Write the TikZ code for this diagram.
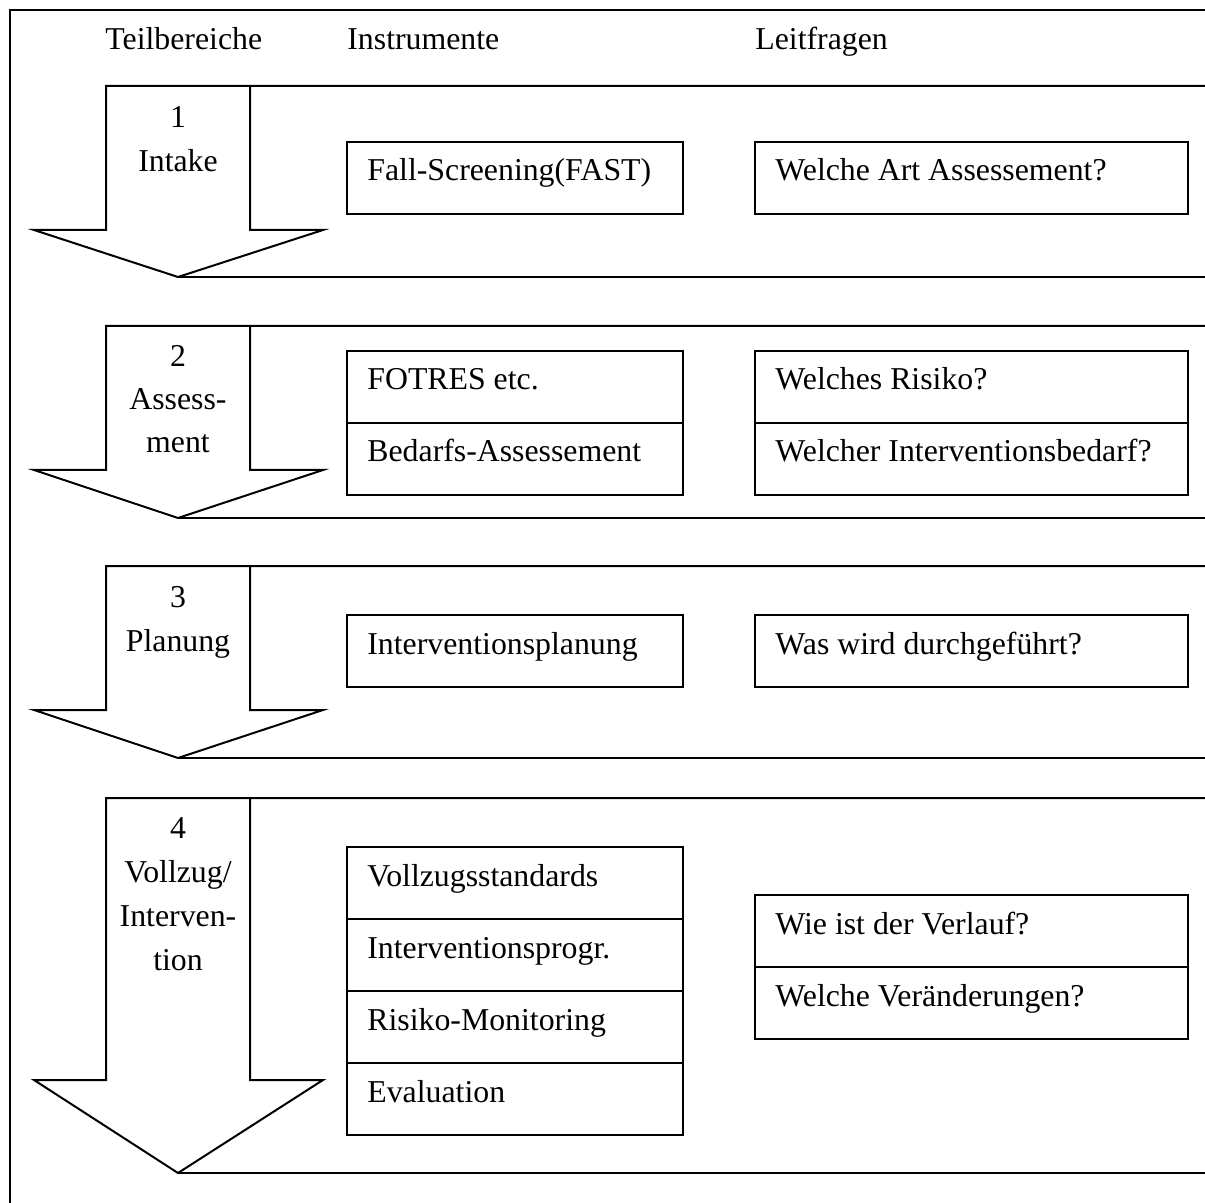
\documentclass[tikz,border=0pt]{standalone}
\usepackage{fontspec}
\setmainfont{Liberation Serif}
\begin{document}
\begin{tikzpicture}[x=0.5pt,y=-0.5pt,
  every node/.style={font=\fontsize{15.9}{18}\selectfont},
  ln/.style={line width=1pt, line join=miter},
  icell/.style={draw, line width=1pt, rectangle, minimum width=168pt, minimum height=36pt, anchor=north west, inner sep=0pt},
  qcell/.style={draw, line width=1pt, rectangle, minimum width=216.5pt, minimum height=36pt, anchor=north west, inner sep=0pt},
  txt/.style={anchor=base west, inner sep=0pt},
  lbl/.style={anchor=base, inner sep=0pt}]
\useasboundingbox (0,0) rectangle (1205,1203);
% outer frame (cut off at right and bottom)
\draw[ln] (10,1203) -- (10,10) -- (1205,10);
% headers
\node[txt] (h1) at (105,50) {Teilbereiche};
\node[txt] (h2) at (347,50) {Instrumente};
\node[txt] (h3) at (755,50) {Leitfragen};
% arrows: top, shaft bottom, tip
\foreach \t/\s/\p in {86/230/277, 326/470/518, 566/710/758, 798/1080/1173}{
  \draw[ln] (1205,\t) -- (106,\t) -- (106,\s) -- (34,\s) -- (178,\p) -- (323,\s) -- (250,\s) -- (250,\t);
  \draw[ln] (178,\p) -- (1205,\p);
}
% row 1
\node[lbl] (n1) at (178,128) {1};
\node[lbl] (l1) at (178,172) {Intake};
\node[icell] (i11) at (346,141) {};
\node[txt] at ([xshift=10.5pt,yshift=-20pt]i11.north west) (ti11) {Fall-Screening(FAST)};
\node[qcell] (q11) at (754,141) {};
\node[txt] at ([xshift=10.5pt,yshift=-20pt]q11.north west) (tq11) {Welche Art Assessement?};
% row 2
\node[lbl] (n2) at (178,367) {2};
\node[lbl] (l2a) at (178,410) {Assess-};
\node[lbl] (l2b) at (178,453) {ment};
\node[icell] (i21) at (346,350) {};
\node[icell] (i22) at (346,422) {};
\node[txt] at ([xshift=10.5pt,yshift=-20pt]i21.north west) (ti21) {FOTRES etc.};
\node[txt] at ([xshift=10.5pt,yshift=-20pt]i22.north west) (ti22) {Bedarfs-Assessement};
\node[qcell] (q21) at (754,350) {};
\node[qcell] (q22) at (754,422) {};
\node[txt] at ([xshift=10.5pt,yshift=-20pt]q21.north west) (tq21) {Welches Risiko?};
\node[txt] at ([xshift=10.5pt,yshift=-20pt]q22.north west) (tq22) {Welcher Interventionsbedarf?};
% row 3
\node[lbl] (n3) at (178,607) {3};
\node[lbl] (l3) at (178,651) {Planung};
\node[icell] (i31) at (346,614) {};
\node[txt] at ([xshift=10.5pt,yshift=-20pt]i31.north west) (ti31) {Interventionsplanung};
\node[qcell] (q31) at (754,614) {};
\node[txt] at ([xshift=10.5pt,yshift=-20pt]q31.north west) (tq31) {Was wird durchgeführt?};
% row 4
\node[lbl] (n4) at (178,838) {4};
\node[lbl] (l4a) at (178,882) {Vollzug/};
\node[lbl] (l4b) at (178,926) {Interven-};
\node[lbl] (l4c) at (178,970) {tion};
\node[icell] (i41) at (346,846) {};
\node[icell] (i42) at (346,918) {};
\node[icell] (i43) at (346,990) {};
\node[icell] (i44) at (346,1062) {};
\node[txt] at ([xshift=10.5pt,yshift=-20pt]i41.north west) (ti41) {Vollzugsstandards};
\node[txt] at ([xshift=10.5pt,yshift=-20pt]i42.north west) (ti42) {Interventionsprogr.};
\node[txt] at ([xshift=10.5pt,yshift=-20pt]i43.north west) (ti43) {Risiko-Monitoring};
\node[txt] at ([xshift=10.5pt,yshift=-20pt]i44.north west) (ti44) {Evaluation};
\node[qcell] (q41) at (754,894) {};
\node[qcell] (q42) at (754,966) {};
\node[txt] at ([xshift=10.5pt,yshift=-20pt]q41.north west) (tq41) {Wie ist der Verlauf?};
\node[txt] at ([xshift=10.5pt,yshift=-20pt]q42.north west) (tq42) {Welche Veränderungen?};
\end{tikzpicture}
\end{document}
